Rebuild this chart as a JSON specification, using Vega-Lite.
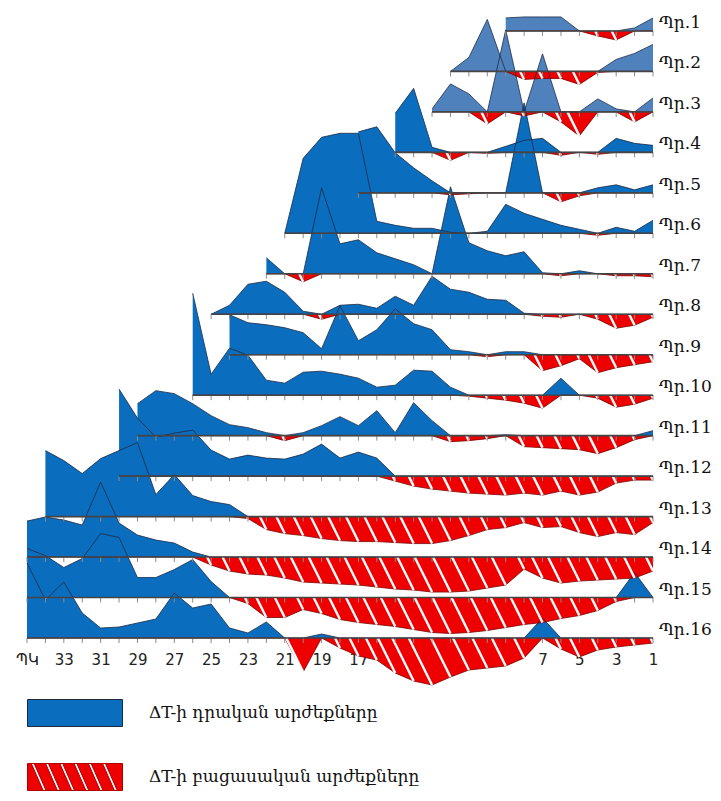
{
  "$schema": "https://vega.github.io/schema/vega-lite/v6.json",
  "width": 626,
  "height": 638,
  "autosize": {"type": "none"},
  "padding": {"left": 27, "top": 0, "right": 68, "bottom": 163},
  "background": "white",
  "config": {"view": {"stroke": null}},
  "data": {"values": [
    {"panel":1,"pos":9,"dT":1.3},{"panel":1,"pos":8,"dT":1.4},{"panel":1,"pos":7,"dT":1.4},{"panel":1,"pos":6,"dT":1.4},{"panel":1,"pos":5,"dT":0},{"panel":1,"pos":4,"dT":-0.5},{"panel":1,"pos":3,"dT":-0.9},{"panel":1,"pos":2,"dT":0.3},{"panel":1,"pos":1,"dT":1.3},
    {"panel":2,"pos":12,"dT":0},{"panel":2,"pos":11,"dT":1.4},{"panel":2,"pos":10,"dT":5.2},{"panel":2,"pos":9,"dT":0},{"panel":2,"pos":8,"dT":-0.8},{"panel":2,"pos":7,"dT":-0.7},{"panel":2,"pos":6,"dT":-0.7},{"panel":2,"pos":5,"dT":-1.3},{"panel":2,"pos":4,"dT":-0.1},{"panel":2,"pos":3,"dT":1.2},{"panel":2,"pos":2,"dT":1.8},{"panel":2,"pos":1,"dT":2.7},
    {"panel":3,"pos":13,"dT":0.3},{"panel":3,"pos":12,"dT":2.8},{"panel":3,"pos":11,"dT":1.8},{"panel":3,"pos":10,"dT":-1.2},{"panel":3,"pos":9,"dT":8.2},{"panel":3,"pos":8,"dT":-0.4},{"panel":3,"pos":7,"dT":5.8},{"panel":3,"pos":6,"dT":-1.0},{"panel":3,"pos":5,"dT":-2.4},{"panel":3,"pos":4,"dT":1.3},{"panel":3,"pos":3,"dT":0.3},{"panel":3,"pos":2,"dT":-1.0},{"panel":3,"pos":1,"dT":1.4},
    {"panel":4,"pos":15,"dT":3.9},{"panel":4,"pos":14,"dT":6.4},{"panel":4,"pos":13,"dT":0.5},{"panel":4,"pos":12,"dT":-0.8},{"panel":4,"pos":11,"dT":0},{"panel":4,"pos":10,"dT":-0.1},{"panel":4,"pos":9,"dT":0.6},{"panel":4,"pos":8,"dT":1.2},{"panel":4,"pos":7,"dT":1.4},{"panel":4,"pos":6,"dT":-0.3},{"panel":4,"pos":5,"dT":0},{"panel":4,"pos":4,"dT":-0.2},{"panel":4,"pos":3,"dT":1.4},{"panel":4,"pos":2,"dT":0.9},{"panel":4,"pos":1,"dT":0.7},
    {"panel":5,"pos":17,"dT":6.1},{"panel":5,"pos":16,"dT":6.6},{"panel":5,"pos":15,"dT":4.0},{"panel":5,"pos":14,"dT":2.5},{"panel":5,"pos":13,"dT":1.2},{"panel":5,"pos":12,"dT":-0.2},{"panel":5,"pos":11,"dT":-0.1},{"panel":5,"pos":10,"dT":0},{"panel":5,"pos":9,"dT":0},{"panel":5,"pos":8,"dT":9.0},{"panel":5,"pos":7,"dT":0},{"panel":5,"pos":6,"dT":-0.9},{"panel":5,"pos":5,"dT":-0.3},{"panel":5,"pos":4,"dT":0.5},{"panel":5,"pos":3,"dT":0.8},{"panel":5,"pos":2,"dT":0.3},{"panel":5,"pos":1,"dT":0.8},
    {"panel":6,"pos":21,"dT":0},{"panel":6,"pos":20,"dT":7.5},{"panel":6,"pos":19,"dT":9.6},{"panel":6,"pos":18,"dT":10.0},{"panel":6,"pos":17,"dT":10.0},{"panel":6,"pos":16,"dT":1.2},{"panel":6,"pos":15,"dT":0.8},{"panel":6,"pos":14,"dT":0.5},{"panel":6,"pos":13,"dT":0.5},{"panel":6,"pos":12,"dT":0.1},{"panel":6,"pos":11,"dT":0},{"panel":6,"pos":10,"dT":0.2},{"panel":6,"pos":9,"dT":2.9},{"panel":6,"pos":8,"dT":2.0},{"panel":6,"pos":7,"dT":1.4},{"panel":6,"pos":6,"dT":0.8},{"panel":6,"pos":5,"dT":0.4},{"panel":6,"pos":4,"dT":-0.2},{"panel":6,"pos":3,"dT":0.6},{"panel":6,"pos":2,"dT":0.2},{"panel":6,"pos":1,"dT":1.3},
    {"panel":7,"pos":22,"dT":1.6},{"panel":7,"pos":21,"dT":0},{"panel":7,"pos":20,"dT":-0.8},{"panel":7,"pos":19,"dT":8.6},{"panel":7,"pos":18,"dT":3.0},{"panel":7,"pos":17,"dT":3.4},{"panel":7,"pos":16,"dT":2.1},{"panel":7,"pos":15,"dT":1.5},{"panel":7,"pos":14,"dT":0.9},{"panel":7,"pos":13,"dT":0},{"panel":7,"pos":12,"dT":8.7},{"panel":7,"pos":11,"dT":3.1},{"panel":7,"pos":10,"dT":2.3},{"panel":7,"pos":9,"dT":1.8},{"panel":7,"pos":8,"dT":2.2},{"panel":7,"pos":7,"dT":0.1},{"panel":7,"pos":6,"dT":-0.2},{"panel":7,"pos":5,"dT":0.3},{"panel":7,"pos":4,"dT":0},{"panel":7,"pos":3,"dT":-0.2},{"panel":7,"pos":2,"dT":-0.2},{"panel":7,"pos":1,"dT":-0.3},
    {"panel":8,"pos":25,"dT":0},{"panel":8,"pos":24,"dT":0.9},{"panel":8,"pos":23,"dT":3.0},{"panel":8,"pos":22,"dT":3.3},{"panel":8,"pos":21,"dT":2.2},{"panel":8,"pos":20,"dT":0.3},{"panel":8,"pos":19,"dT":-0.5},{"panel":8,"pos":18,"dT":0.9},{"panel":8,"pos":17,"dT":1.0},{"panel":8,"pos":16,"dT":0.6},{"panel":8,"pos":15,"dT":1.8},{"panel":8,"pos":14,"dT":0.9},{"panel":8,"pos":13,"dT":3.8},{"panel":8,"pos":12,"dT":2.5},{"panel":8,"pos":11,"dT":2.2},{"panel":8,"pos":10,"dT":1.5},{"panel":8,"pos":9,"dT":1.4},{"panel":8,"pos":8,"dT":0.1},{"panel":8,"pos":7,"dT":-0.2},{"panel":8,"pos":6,"dT":-0.3},{"panel":8,"pos":5,"dT":0},{"panel":8,"pos":4,"dT":-0.5},{"panel":8,"pos":3,"dT":-1.4},{"panel":8,"pos":2,"dT":-1.1},{"panel":8,"pos":1,"dT":-0.3},
    {"panel":9,"pos":24,"dT":4.0},{"panel":9,"pos":23,"dT":3.2},{"panel":9,"pos":22,"dT":3.0},{"panel":9,"pos":21,"dT":2.7},{"panel":9,"pos":20,"dT":2.2},{"panel":9,"pos":19,"dT":0.6},{"panel":9,"pos":18,"dT":4.9},{"panel":9,"pos":17,"dT":1.4},{"panel":9,"pos":16,"dT":2.5},{"panel":9,"pos":15,"dT":4.6},{"panel":9,"pos":14,"dT":3.1},{"panel":9,"pos":13,"dT":2.5},{"panel":9,"pos":12,"dT":0.5},{"panel":9,"pos":11,"dT":0.3},{"panel":9,"pos":10,"dT":-0.2},{"panel":9,"pos":9,"dT":0.3},{"panel":9,"pos":8,"dT":0.3},{"panel":9,"pos":7,"dT":-1.6},{"panel":9,"pos":6,"dT":-1.1},{"panel":9,"pos":5,"dT":-0.4},{"panel":9,"pos":4,"dT":-1.8},{"panel":9,"pos":3,"dT":-1.3},{"panel":9,"pos":2,"dT":-1.0},{"panel":9,"pos":1,"dT":-0.7},
    {"panel":10,"pos":26,"dT":10.2},{"panel":10,"pos":25,"dT":2.1},{"panel":10,"pos":24,"dT":4.7},{"panel":10,"pos":23,"dT":4.0},{"panel":10,"pos":22,"dT":1.5},{"panel":10,"pos":21,"dT":1.2},{"panel":10,"pos":20,"dT":2.3},{"panel":10,"pos":19,"dT":2.4},{"panel":10,"pos":18,"dT":2.1},{"panel":10,"pos":17,"dT":1.7},{"panel":10,"pos":16,"dT":0.8},{"panel":10,"pos":15,"dT":1.0},{"panel":10,"pos":14,"dT":2.5},{"panel":10,"pos":13,"dT":2.4},{"panel":10,"pos":12,"dT":0.8},{"panel":10,"pos":11,"dT":-0.1},{"panel":10,"pos":10,"dT":-0.3},{"panel":10,"pos":9,"dT":-0.5},{"panel":10,"pos":8,"dT":-0.8},{"panel":10,"pos":7,"dT":-1.3},{"panel":10,"pos":6,"dT":1.7},{"panel":10,"pos":5,"dT":0},{"panel":10,"pos":4,"dT":-0.3},{"panel":10,"pos":3,"dT":-1.2},{"panel":10,"pos":2,"dT":-0.9},{"panel":10,"pos":1,"dT":-0.3},
    {"panel":11,"pos":29,"dT":3.2},{"panel":11,"pos":28,"dT":4.5},{"panel":11,"pos":27,"dT":4.2},{"panel":11,"pos":26,"dT":3.2},{"panel":11,"pos":25,"dT":2.0},{"panel":11,"pos":24,"dT":1.1},{"panel":11,"pos":23,"dT":0.8},{"panel":11,"pos":22,"dT":0.3},{"panel":11,"pos":21,"dT":-0.5},{"panel":11,"pos":20,"dT":0.3},{"panel":11,"pos":19,"dT":1.0},{"panel":11,"pos":18,"dT":1.9},{"panel":11,"pos":17,"dT":1.0},{"panel":11,"pos":16,"dT":2.5},{"panel":11,"pos":15,"dT":0.3},{"panel":11,"pos":14,"dT":3.3},{"panel":11,"pos":13,"dT":1.5},{"panel":11,"pos":12,"dT":-0.6},{"panel":11,"pos":11,"dT":-0.5},{"panel":11,"pos":10,"dT":-0.3},{"panel":11,"pos":9,"dT":0.1},{"panel":11,"pos":8,"dT":-1.1},{"panel":11,"pos":7,"dT":-1.2},{"panel":11,"pos":6,"dT":-1.3},{"panel":11,"pos":5,"dT":-1.4},{"panel":11,"pos":4,"dT":-1.8},{"panel":11,"pos":3,"dT":-1.2},{"panel":11,"pos":2,"dT":-0.4},{"panel":11,"pos":1,"dT":0.5},
    {"panel":12,"pos":30,"dT":8.7},{"panel":12,"pos":29,"dT":5.8},{"panel":12,"pos":28,"dT":3.9},{"panel":12,"pos":27,"dT":4.3},{"panel":12,"pos":26,"dT":4.6},{"panel":12,"pos":25,"dT":2.6},{"panel":12,"pos":24,"dT":1.7},{"panel":12,"pos":23,"dT":2.1},{"panel":12,"pos":22,"dT":1.8},{"panel":12,"pos":21,"dT":1.7},{"panel":12,"pos":20,"dT":2.2},{"panel":12,"pos":19,"dT":3.2},{"panel":12,"pos":18,"dT":1.8},{"panel":12,"pos":17,"dT":2.4},{"panel":12,"pos":16,"dT":1.8},{"panel":12,"pos":15,"dT":-0.5},{"panel":12,"pos":14,"dT":-1.0},{"panel":12,"pos":13,"dT":-1.3},{"panel":12,"pos":12,"dT":-1.5},{"panel":12,"pos":11,"dT":-1.7},{"panel":12,"pos":10,"dT":-1.8},{"panel":12,"pos":9,"dT":-1.9},{"panel":12,"pos":8,"dT":-1.7},{"panel":12,"pos":7,"dT":-1.9},{"panel":12,"pos":6,"dT":-1.5},{"panel":12,"pos":5,"dT":-1.9},{"panel":12,"pos":4,"dT":-1.6},{"panel":12,"pos":3,"dT":-0.7},{"panel":12,"pos":2,"dT":-0.4},{"panel":12,"pos":1,"dT":-0.4},
    {"panel":13,"pos":34,"dT":6.6},{"panel":13,"pos":33,"dT":5.6},{"panel":13,"pos":32,"dT":4.3},{"panel":13,"pos":31,"dT":5.8},{"panel":13,"pos":30,"dT":6.6},{"panel":13,"pos":29,"dT":7.4},{"panel":13,"pos":28,"dT":2.2},{"panel":13,"pos":27,"dT":4.2},{"panel":13,"pos":26,"dT":2.1},{"panel":13,"pos":25,"dT":1.5},{"panel":13,"pos":24,"dT":1.2},{"panel":13,"pos":23,"dT":-0.2},{"panel":13,"pos":22,"dT":-1.3},{"panel":13,"pos":21,"dT":-1.7},{"panel":13,"pos":20,"dT":-1.9},{"panel":13,"pos":19,"dT":-2.2},{"panel":13,"pos":18,"dT":-2.4},{"panel":13,"pos":17,"dT":-2.5},{"panel":13,"pos":16,"dT":-2.5},{"panel":13,"pos":15,"dT":-2.6},{"panel":13,"pos":14,"dT":-2.7},{"panel":13,"pos":13,"dT":-2.7},{"panel":13,"pos":12,"dT":-2.4},{"panel":13,"pos":11,"dT":-1.9},{"panel":13,"pos":10,"dT":-1.3},{"panel":13,"pos":9,"dT":-1.1},{"panel":13,"pos":8,"dT":-0.6},{"panel":13,"pos":7,"dT":-1.1},{"panel":13,"pos":6,"dT":-1.0},{"panel":13,"pos":5,"dT":-1.6},{"panel":13,"pos":4,"dT":-2.0},{"panel":13,"pos":3,"dT":-1.6},{"panel":13,"pos":2,"dT":-1.8},{"panel":13,"pos":1,"dT":-0.6},
    {"panel":14,"pos":35,"dT":3.6},{"panel":14,"pos":34,"dT":4.0},{"panel":14,"pos":33,"dT":3.7},{"panel":14,"pos":32,"dT":3.2},{"panel":14,"pos":31,"dT":7.5},{"panel":14,"pos":30,"dT":3.4},{"panel":14,"pos":29,"dT":2.2},{"panel":14,"pos":28,"dT":1.7},{"panel":14,"pos":27,"dT":1.4},{"panel":14,"pos":26,"dT":0.5},{"panel":14,"pos":25,"dT":-0.8},{"panel":14,"pos":24,"dT":-1.4},{"panel":14,"pos":23,"dT":-1.7},{"panel":14,"pos":22,"dT":-1.8},{"panel":14,"pos":21,"dT":-2.1},{"panel":14,"pos":20,"dT":-2.5},{"panel":14,"pos":19,"dT":-2.6},{"panel":14,"pos":18,"dT":-2.7},{"panel":14,"pos":17,"dT":-2.8},{"panel":14,"pos":16,"dT":-3.0},{"panel":14,"pos":15,"dT":-3.2},{"panel":14,"pos":14,"dT":-3.3},{"panel":14,"pos":13,"dT":-3.5},{"panel":14,"pos":12,"dT":-3.5},{"panel":14,"pos":11,"dT":-3.4},{"panel":14,"pos":10,"dT":-3.1},{"panel":14,"pos":9,"dT":-2.8},{"panel":14,"pos":8,"dT":-1.2},{"panel":14,"pos":7,"dT":-2.1},{"panel":14,"pos":6,"dT":-2.6},{"panel":14,"pos":5,"dT":-2.4},{"panel":14,"pos":4,"dT":-2.3},{"panel":14,"pos":3,"dT":-2.2},{"panel":14,"pos":2,"dT":-2.1},{"panel":14,"pos":1,"dT":-1.4},
    {"panel":15,"pos":35,"dT":4.9},{"panel":15,"pos":34,"dT":4.2},{"panel":15,"pos":33,"dT":3.0},{"panel":15,"pos":32,"dT":3.9},{"panel":15,"pos":31,"dT":6.4},{"panel":15,"pos":30,"dT":6.0},{"panel":15,"pos":29,"dT":2.0},{"panel":15,"pos":28,"dT":2.0},{"panel":15,"pos":27,"dT":2.8},{"panel":15,"pos":26,"dT":3.8},{"panel":15,"pos":25,"dT":1.6},{"panel":15,"pos":24,"dT":0},{"panel":15,"pos":23,"dT":-0.6},{"panel":15,"pos":22,"dT":-2.0},{"panel":15,"pos":21,"dT":-2.0},{"panel":15,"pos":20,"dT":-1.2},{"panel":15,"pos":19,"dT":-1.6},{"panel":15,"pos":18,"dT":-2.2},{"panel":15,"pos":17,"dT":-2.5},{"panel":15,"pos":16,"dT":-2.7},{"panel":15,"pos":15,"dT":-2.9},{"panel":15,"pos":14,"dT":-3.2},{"panel":15,"pos":13,"dT":-3.5},{"panel":15,"pos":12,"dT":-3.6},{"panel":15,"pos":11,"dT":-3.5},{"panel":15,"pos":10,"dT":-3.3},{"panel":15,"pos":9,"dT":-3.0},{"panel":15,"pos":8,"dT":-2.7},{"panel":15,"pos":7,"dT":-2.5},{"panel":15,"pos":6,"dT":-2.1},{"panel":15,"pos":5,"dT":-1.8},{"panel":15,"pos":4,"dT":-1.3},{"panel":15,"pos":3,"dT":-0.4},{"panel":15,"pos":2,"dT":2.5},{"panel":15,"pos":1,"dT":0},
    {"panel":16,"pos":35,"dT":7.5},{"panel":16,"pos":34,"dT":3.8},{"panel":16,"pos":33,"dT":5.6},{"panel":16,"pos":32,"dT":2.5},{"panel":16,"pos":31,"dT":1.0},{"panel":16,"pos":30,"dT":1.1},{"panel":16,"pos":29,"dT":1.5},{"panel":16,"pos":28,"dT":1.9},{"panel":16,"pos":27,"dT":4.5},{"panel":16,"pos":26,"dT":3.0},{"panel":16,"pos":25,"dT":3.4},{"panel":16,"pos":24,"dT":1.0},{"panel":16,"pos":23,"dT":0.5},{"panel":16,"pos":22,"dT":1.6},{"panel":16,"pos":21,"dT":0},{"panel":16,"pos":20,"dT":-3.4},{"panel":16,"pos":19,"dT":0.4},{"panel":16,"pos":18,"dT":-1.0},{"panel":16,"pos":17,"dT":-1.8},{"panel":16,"pos":16,"dT":-2.2},{"panel":16,"pos":15,"dT":-3.5},{"panel":16,"pos":14,"dT":-4.3},{"panel":16,"pos":13,"dT":-4.7},{"panel":16,"pos":12,"dT":-3.9},{"panel":16,"pos":11,"dT":-3.2},{"panel":16,"pos":10,"dT":-3.0},{"panel":16,"pos":9,"dT":-2.8},{"panel":16,"pos":8,"dT":-2.0},{"panel":16,"pos":7,"dT":2.0},{"panel":16,"pos":6,"dT":-1.1},{"panel":16,"pos":5,"dT":-1.9},{"panel":16,"pos":4,"dT":-1.2},{"panel":16,"pos":3,"dT":-0.9},{"panel":16,"pos":2,"dT":-0.7},{"panel":16,"pos":1,"dT":-0.5}
  ]},
  "transform": [
    {"calculate": "(16 - datum.panel) * 4.047", "as": "base"},
    {"calculate": "datum.base + max(datum.dT, 0)", "as": "yPos"},
    {"calculate": "datum.base + min(datum.dT, 0)", "as": "yNeg"}
  ],
  "encoding": {
    "x": {
      "field": "pos", "type": "quantitative",
      "scale": {"domain": [1, 35], "reverse": true, "nice": false, "zero": false},
      "axis": {
        "values": [35,33,31,29,27,25,23,21,19,17,15,13,11,9,7,5,3,1],
        "labelExpr": "datum.value == 35 ? 'ՊԿ' : datum.label",
        "domain": false, "ticks": false, "grid": false, "title": null,
        "labelFont": "DejaVu Sans", "labelFontSize": 15, "labelColor": "#222",
        "labelPadding": 14, "labelFlush": false, "labelOverlap": false
      }
    }
  },
  "layer": [
    {
      "mark": {"type": "area", "opacity": 1},
      "encoding": {
        "y": {"field": "yPos", "type": "quantitative", "scale": {"domain": [0, 63.8]}, "axis": null},
        "y2": {"field": "base"},
        "detail": {"field": "panel", "type": "nominal"},
        "fill": {"condition": {"test": "datum.panel <= 3", "value": "#4F81BD"}, "value": "#0B6DBE"}
      }
    },
    {
      "mark": {"type": "area", "opacity": 1, "fill": "#EE0000"},
      "encoding": {
        "y": {"field": "yNeg", "type": "quantitative", "scale": {"domain": [0, 63.8]}, "axis": null},
        "y2": {"field": "base"},
        "detail": {"field": "panel", "type": "nominal"}
      }
    },
    {
      "mark": {"type": "line", "stroke": "#1c2c48", "strokeWidth": 0.8},
      "encoding": {
        "y": {"field": "yPos", "type": "quantitative", "scale": {"domain": [0, 63.8]}, "axis": null},
        "detail": {"field": "panel", "type": "nominal"}
      }
    },
    {
      "mark": {"type": "line", "stroke": "#7a0000", "strokeWidth": 0.8},
      "encoding": {
        "y": {"field": "yNeg", "type": "quantitative", "scale": {"domain": [0, 63.8]}, "axis": null},
        "detail": {"field": "panel", "type": "nominal"}
      }
    },
    {
      "transform": [
        {"filter": "datum.dT < 0"},
        {"calculate": "datum.pos - datum.dT * 0.27", "as": "xTop"}
      ],
      "mark": {"type": "rule", "color": "white", "strokeWidth": 2.4},
      "encoding": {
        "x2": {"field": "xTop"},
        "y": {"field": "yNeg", "type": "quantitative", "scale": {"domain": [0, 63.8]}, "axis": null},
        "y2": {"field": "base"}
      }
    },
    {
      "mark": {"type": "rule", "color": "#8c8c8c", "strokeWidth": 1, "y2Offset": 5},
      "encoding": {
        "y": {"field": "base", "type": "quantitative", "scale": {"domain": [0, 63.8]}, "axis": null},
        "y2": {"field": "base"}
      }
    },
    {
      "transform": [
        {"aggregate": [{"op": "max", "field": "pos", "as": "start"}, {"op": "min", "field": "pos", "as": "end"}], "groupby": ["panel", "base"]}
      ],
      "layer": [
        {
          "mark": {"type": "rule", "color": "#454545", "strokeWidth": 1.6},
          "encoding": {
            "x": {"field": "start", "type": "quantitative"},
            "x2": {"field": "end"},
            "y": {"field": "base", "type": "quantitative", "scale": {"domain": [0, 63.8]}, "axis": null}
          }
        },
        {
          "transform": [{"calculate": "'Պր.' + datum.panel", "as": "label"}],
          "mark": {"type": "text", "align": "left", "baseline": "middle", "dx": 6, "dy": -8, "font": "DejaVu Serif", "fontSize": 17, "fill": "#111"},
          "encoding": {
            "x": {"field": "end", "type": "quantitative"},
            "y": {"field": "base", "type": "quantitative", "scale": {"domain": [0, 63.8]}, "axis": null},
            "text": {"field": "label", "type": "nominal"}
          }
        }
      ]
    },
    {
      "data": {"values": [{"kind": "ΔT-ի դրական արժեքները"}, {"kind": "ΔT-ի բացասական արժեքները"}]},
      "transform": [{"filter": "false"}],
      "mark": {"type": "point", "filled": true, "opacity": 1},
      "encoding": {
        "x": {"datum": 1},
        "color": {
          "field": "kind", "type": "nominal",
          "scale": {"domain": ["ΔT-ի դրական արժեքները", "ΔT-ի բացասական արժեքները"], "range": ["#0B6DBE", "#EE0000"]},
          "legend": {"title": null, "orient": "none", "legendX": 0, "legendY": 665, "symbolSize": 9025, "symbolStrokeWidth": 1, "symbolOpacity": 1, "labelFont": "DejaVu Serif", "labelFontSize": 17, "labelColor": "#111", "labelOffset": 26, "labelLimit": 0, "rowPadding": -29, "padding": 0}
        },
        "shape": {
          "field": "kind", "type": "nominal",
          "scale": {"domain": ["ΔT-ի դրական արժեքները", "ΔT-ի բացասական արժեքները"], "range": [
            "M-1,-0.284H1V0.284H-1Z",
            "M-1,-0.284H1V0.284H-1Z M-0.92,-0.284L-0.67,0.284L-0.61,0.284L-0.86,-0.284Z M-0.62,-0.284L-0.37,0.284L-0.31,0.284L-0.56,-0.284Z M-0.32,-0.284L-0.07,0.284L-0.01,0.284L-0.26,-0.284Z M-0.02,-0.284L0.23,0.284L0.29,0.284L0.04,-0.284Z M0.28,-0.284L0.53,0.284L0.59,0.284L0.34,-0.284Z M0.58,-0.284L0.83,0.284L0.89,0.284L0.64,-0.284Z"
          ]},
          "legend": {"title": null, "orient": "none", "legendX": 0, "legendY": 665, "symbolSize": 9025, "symbolStrokeWidth": 1, "symbolOpacity": 1, "labelFont": "DejaVu Serif", "labelFontSize": 17, "labelColor": "#111", "labelOffset": 26, "labelLimit": 0, "rowPadding": -29, "padding": 0}
        },
        "stroke": {
          "field": "kind", "type": "nominal",
          "scale": {"domain": ["ΔT-ի դրական արժեքները", "ΔT-ի բացասական արժեքները"], "range": ["#1a2a40", "#b00000"]},
          "legend": {"title": null, "orient": "none", "legendX": 0, "legendY": 665, "symbolSize": 9025, "symbolStrokeWidth": 1, "symbolOpacity": 1, "labelFont": "DejaVu Serif", "labelFontSize": 17, "labelColor": "#111", "labelOffset": 26, "labelLimit": 0, "rowPadding": -29, "padding": 0}
        }
      }
    }
  ]
}
